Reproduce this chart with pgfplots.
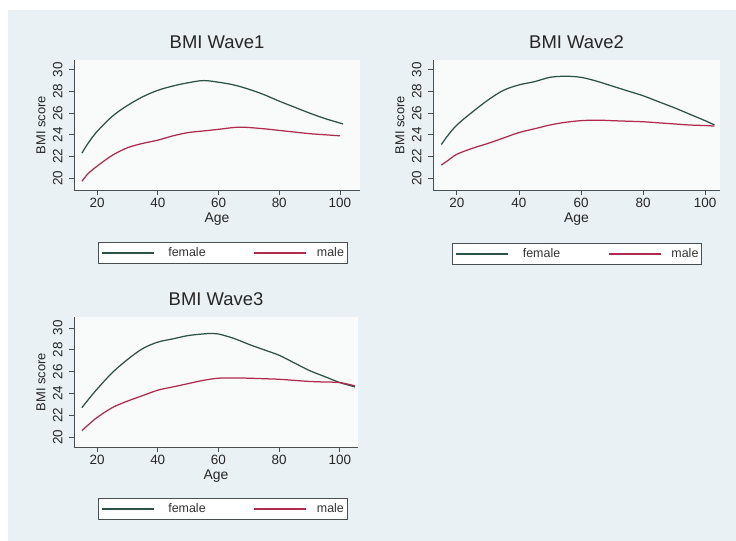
\documentclass[border=0pt]{standalone}
\usepackage{pgfplots}
\pgfplotsset{compat=1.18}
\usepackage{fontspec}
\setmainfont{Liberation Sans}

\definecolor{pagebg}{HTML}{EAF1F4}
\definecolor{plotbg}{HTML}{F9FBFB}
\definecolor{axisc}{HTML}{4A4F52}
\definecolor{femc}{HTML}{2C5248}
\definecolor{malec}{HTML}{B02A4E}

\pgfplotsset{
  bmi/.style={
    scale only axis, height=130bp,
    axis x line*=bottom, axis y line*=left,
    axis line style={draw=axisc, line width=0.8pt, -},
    axis background/.style={fill=plotbg},
    tick style={draw=axisc, line width=0.8pt},
    tick align=outside, major tick length=5bp,
    xtick={20,40,...,100}, ytick={20,22,...,30},
    /pgf/number format/assume math mode=true,
    ticklabel style={font=\fontsize{13.5}{13.5}\selectfont, text=black!85},
    yticklabel style={xshift=-3bp, rotate=90, anchor=south},
    xlabel=Age, ylabel=BMI score,
    every axis x label/.style={at={(axis description cs:0.5,0)}, anchor=center,
      yshift=-29bp, font=\fontsize{14}{14}\selectfont, text=black!85},
    every axis y label/.style={at={(axis description cs:0,0.5)}, xshift=-33bp,
      rotate=90, anchor=center, font=\fontsize{13}{13}\selectfont, text=black!85},
    title style={at={(axis description cs:0.5,1)}, anchor=center, yshift=12bp,
      font=\fontsize{18.5}{18.5}\selectfont, text=black!85},
    legend columns=2,
    legend image code/.code={\draw[#1] (0bp,0bp) -- (52bp,0bp);},
    legend style={draw=axisc, fill=white, line width=0.6pt,
      font=\fontsize{12.5}{12.5}\selectfont, text=black!80,
      inner xsep=3bp, inner ysep=4bp,
      nodes={inner xsep=0bp, inner ysep=1bp},
      /tikz/column 1/.style={column sep=14bp},
      /tikz/column 2/.style={column sep=48bp},
      /tikz/column 3/.style={column sep=10bp},
      /tikz/column 4/.style={column sep=0bp}},
    fem/.style={color=femc, line width=1.25pt, smooth, tension=0.55},
    mal/.style={color=malec, line width=1.25pt, smooth, tension=0.55},
  }
}

\begin{document}
\begin{tikzpicture}
\useasboundingbox (0,0) rectangle (736bp,-541bp);
\fill[white] (0,0) rectangle (736bp,-541bp);
\fill[pagebg] (8bp,-10bp) rectangle (736bp,-541bp);

% Wave 1
\begin{axis}[bmi, at={(74bp,-190bp)}, anchor=south west, width=286bp,
  xmin=12.4, xmax=106.6, ymin=18.9, ymax=30.9, title={BMI Wave1},
  legend style={at={(axis description cs:0.5,0)}, anchor=center, xshift=5.5bp, yshift=-63bp}]
\addplot[fem] coordinates {
 (15,22.3) (17,23.2) (20,24.3) (25,25.7) (30,26.7) (35,27.5) (40,28.1)
 (45,28.5) (50,28.8) (55,29.0) (60,28.85) (65,28.6) (70,28.2) (75,27.7)
 (80,27.1) (85,26.55) (90,26.0) (95,25.5) (101,25.0)};
\addlegendentry{female}
\addplot[mal] coordinates {
 (15,19.7) (17,20.4) (20,21.1) (25,22.1) (30,22.8) (35,23.2) (40,23.5)
 (45,23.9) (50,24.2) (55,24.35) (60,24.5) (67,24.7) (75,24.55) (80,24.4)
 (85,24.25) (90,24.1) (95,24.0) (100,23.9)};
\addlegendentry{male\hspace{6bp}}
\end{axis}

% Wave 2
\begin{axis}[bmi, at={(433bp,-190bp)}, anchor=south west, width=287bp,
  xmin=12.3, xmax=104.8, ymin=18.9, ymax=30.9, title={BMI Wave2},
  legend style={at={(axis description cs:0.5,0)}, anchor=center, xshift=0.5bp, yshift=-64bp}]
\addplot[fem] coordinates {
 (15,23.1) (17,23.9) (20,24.9) (25,26.1) (30,27.2) (35,28.1) (40,28.6)
 (45,28.9) (50,29.3) (55,29.4) (60,29.3) (65,28.95) (70,28.5) (75,28.05)
 (80,27.6) (85,27.05) (90,26.5) (95,25.9) (100,25.3) (103,24.9)};
\addlegendentry{female}
\addplot[mal] coordinates {
 (15,21.2) (17,21.6) (20,22.2) (25,22.75) (30,23.2) (35,23.7) (40,24.2)
 (45,24.55) (50,24.9) (55,25.15) (60,25.3) (65,25.35) (70,25.3) (75,25.25)
 (80,25.2) (85,25.1) (90,25.0) (95,24.9) (100,24.85) (103,24.8)};
\addlegendentry{male\hspace{6bp}}
\end{axis}

% Wave 3
\begin{axis}[bmi, at={(74bp,-447bp)}, anchor=south west, width=284bp,
  xmin=12.4, xmax=106.0, ymin=19.1, ymax=31.0, title={BMI Wave3},
  legend style={at={(axis description cs:0.5,0)}, anchor=center, xshift=6.5bp, yshift=-62bp}]
\addplot[fem] coordinates {
 (15,22.7) (17,23.4) (20,24.4) (25,25.9) (30,27.1) (35,28.1) (40,28.7)
 (45,29.0) (50,29.3) (55,29.45) (58,29.5) (60,29.45) (65,29.05) (70,28.5)
 (75,28.0) (80,27.5) (85,26.8) (90,26.1) (95,25.55) (100,25.0) (105,24.6)};
\addlegendentry{female}
\addplot[mal] coordinates {
 (15,20.6) (17,21.1) (20,21.8) (25,22.7) (30,23.3) (35,23.8) (40,24.3)
 (45,24.6) (50,24.9) (55,25.2) (60,25.4) (65,25.42) (70,25.4) (75,25.35)
 (80,25.3) (85,25.2) (90,25.1) (95,25.05) (100,25.0) (105,24.7)};
\addlegendentry{male\hspace{6bp}}
\end{axis}
\end{tikzpicture}
\end{document}
